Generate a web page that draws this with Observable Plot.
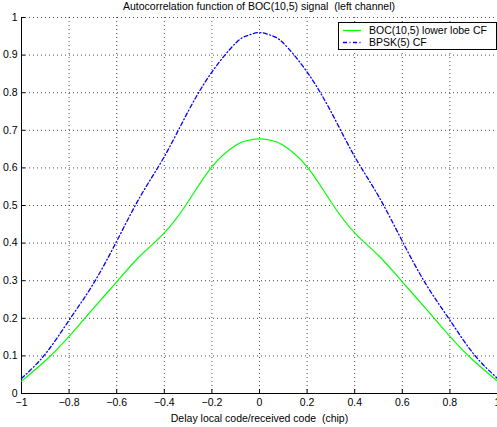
<!DOCTYPE html>
<html>
<head>
<meta charset="utf-8">
<script src="https://cdn.jsdelivr.net/npm/d3@7"></script>
<script src="https://cdn.jsdelivr.net/npm/@observablehq/plot@0.6"></script>
<style>
  html, body { margin: 0; padding: 0; background: #fff; }
  #wrap { position: relative; width: 497px; height: 427px; overflow: hidden; font-family: "Liberation Sans", Arial, Helvetica, sans-serif; }
  #title { height: 12px; line-height: 12px; font-size: 10.5px; text-align: center; width: 476px; margin-left: 21px; white-space: pre; color: #000; }
  #legend { position: absolute; left: 338px; top: 22px; width: 157px; height: 26px; border: 1px solid #000; background: #fff; font-size: 10.5px; }
  #legend .row { position: absolute; left: 0; height: 12px; line-height: 12px; white-space: pre; }
  #legend svg { position: absolute; left: 4px; top: 0; }
  #legend span { position: absolute; left: 30px; top: 0; }
  svg text { white-space: pre; }
</style>
</head>
<body>
<div id="wrap">
  <div id="title">Autocorrelation function of BOC(10,5) signal  (left channel)</div>
  <div id="chart"></div>
  <div id="legend"></div>
</div>
<script>
const titleText = "Autocorrelation function of BOC(10,5) signal  (left channel)";
const xLabel = "Delay local code/received code  (chip)";
const seriesNames = ["BOC(10,5) lower lobe CF", "BPSK(5) CF"];
const seriesColors = ["#00ff00", "#0000ff"];
const seriesDash = [null, "4,2.5,1,2.5"];

const delays = [-1, -0.9, -0.8, -0.7, -0.6, -0.5, -0.4, -0.3, -0.2, -0.1, -0.05, 0,
                0.05, 0.1, 0.2, 0.3, 0.4, 0.5, 0.6, 0.7, 0.8, 0.9, 1];
const bocLower = [0.033, 0.087, 0.152, 0.225, 0.297, 0.367, 0.427, 0.51, 0.603, 0.66, 0.673, 0.677,
                  0.673, 0.66, 0.603, 0.51, 0.427, 0.367, 0.297, 0.225, 0.152, 0.087, 0.033];
const bpsk = [0.04, 0.105, 0.195, 0.29, 0.405, 0.525, 0.63, 0.75, 0.855, 0.932, 0.952, 0.96,
              0.952, 0.932, 0.855, 0.75, 0.63, 0.525, 0.405, 0.29, 0.195, 0.105, 0.04];

const xTicks = [-1, -0.8, -0.6, -0.4, -0.2, 0, 0.2, 0.4, 0.6, 0.8, 1];
const yTicks = [0, 0.1, 0.2, 0.3, 0.4, 0.5, 0.6, 0.7, 0.8, 0.9, 1];

const rows = [];
delays.forEach((d, i) => {
  rows.push({delay: d, value: bocLower[i], series: seriesNames[0]});
});
delays.forEach((d, i) => {
  rows.push({delay: d, value: bpsk[i], series: seriesNames[1]});
});

const fmt = v => (v < 0 ? "\u2212" : "") + String(Math.abs(v));

const chart = Plot.plot({
  width: 497,
  height: 415,
  marginTop: 5,
  marginBottom: 34,
  marginLeft: 21,
  marginRight: 0,
  style: {fontFamily: "Liberation Sans, Arial, Helvetica, sans-serif", fontSize: "10.5px", color: "#000", background: "#fff"},
  x: {domain: [-1, 1]},
  y: {domain: [0, 1]},
  marks: [
    Plot.gridX(xTicks, {stroke: "#000", strokeOpacity: 0.7, strokeDasharray: "1,3"}),
    Plot.gridY(yTicks, {stroke: "#000", strokeOpacity: 0.7, strokeDasharray: "1,3"}),
    Plot.axisX(xTicks, {tickSize: 0, tickPadding: 5, tickFormat: fmt, label: null}),
    Plot.axisY(yTicks, {tickSize: 0, tickPadding: 4, tickFormat: fmt, label: null}),
    Plot.axisX(xTicks, {tickSize: -4, fill: "none", stroke: "#000", label: null}),
    Plot.axisY(yTicks, {tickSize: -4, fill: "none", stroke: "#000", label: null}),
    Plot.ruleX([-1], {stroke: "#000"}),
    Plot.ruleY([0], {stroke: "#000"}),
    Plot.line(rows.filter(r => r.series === seriesNames[0]), {x: "delay", y: "value", stroke: seriesColors[0], strokeWidth: 1.2, curve: "natural"}),
    Plot.line(rows.filter(r => r.series === seriesNames[1]), {x: "delay", y: "value", stroke: seriesColors[1], strokeWidth: 1.3, strokeDasharray: seriesDash[1], curve: "natural"}),
    Plot.text([xLabel], {frameAnchor: "bottom", dy: 28, fontSize: 10.5, fill: "#000"})
  ]
});
document.getElementById("chart").appendChild(chart);

const legend = document.getElementById("legend");
seriesNames.forEach((name, i) => {
  const row = document.createElement("div");
  row.className = "row";
  row.style.top = (1 + i * 12) + "px";
  row.style.width = "157px";
  const svg = d3.create("svg").attr("width", 22).attr("height", 12);
  svg.append("line").attr("x1", 0).attr("x2", 18).attr("y1", 6.5).attr("y2", 6.5)
    .attr("stroke", seriesColors[i]).attr("stroke-width", 1.3)
    .attr("stroke-dasharray", seriesDash[i]);
  row.appendChild(svg.node());
  const span = document.createElement("span");
  span.textContent = name;
  row.appendChild(span);
  legend.appendChild(row);
});
</script>
</body>
</html>
